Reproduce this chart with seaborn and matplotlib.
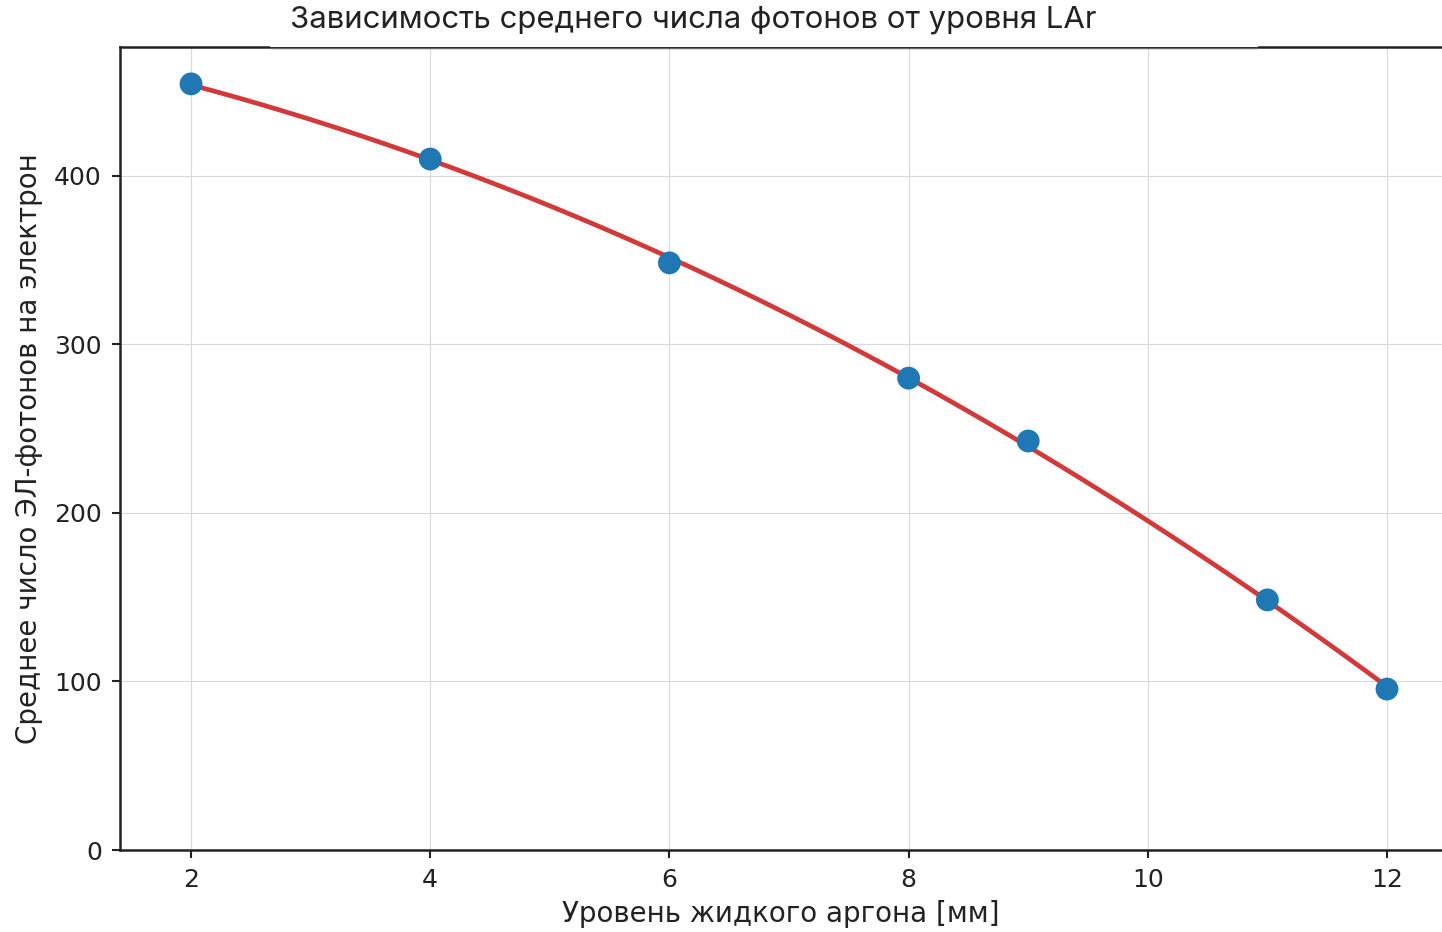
import numpy as np
import pandas as pd
import matplotlib
matplotlib.use("Agg")
import matplotlib.pyplot as plt
import seaborn as sns
from matplotlib.patches import Rectangle

# Data
levels_mm = [2, 4, 6, 8, 9, 11, 12]
photons = [454.6, 410.0, 348.4, 280.0, 242.7, 148.4, 95.5]
photons_err = [3.0, 2.5, 2.5, 2.0, 2.0, 2.0, 2.0]

title_text = "Зависимость среднего числа фотонов от уровня LAr"
xlabel_text = "Уровень жидкого аргона [мм]"
ylabel_text = "Среднее число ЭЛ-фотонов на электрон"
xticks = [2, 4, 6, 8, 10, 12]
yticks = [0, 100, 200, 300, 400]

sns.set_style("ticks")
plt.rcParams['font.family'] = ['DejaVu Sans']

df = pd.DataFrame({"x": levels_mm, "y": photons, "err": photons_err})

# quadratic fit to the data
coef = np.polyfit(df["x"], df["y"], 2)
xf = np.linspace(min(levels_mm), max(levels_mm), 300)
fit = pd.DataFrame({"x": xf, "y": np.polyval(coef, xf)})

fig = plt.figure(figsize=(14.42, 9.32), dpi=100)
ax = fig.add_axes([120 / 1442, 82 / 932, 1 - 120 / 1442, (850 - 47) / 932])

sns.lineplot(data=fit, x="x", y="y", ax=ax, color="#d03a3a", linewidth=3.4, zorder=2)
ax.errorbar(df["x"], df["y"], yerr=df["err"], fmt="none", ecolor="#222222",
            elinewidth=1.5, capsize=5, zorder=3)
sns.scatterplot(data=df, x="x", y="y", ax=ax, color="#1f77b4", s=270,
                edgecolor="none", zorder=4)

ax.set_xlim(1.406, 12.46)
ax.set_ylim(0, 476.5)
ax.set_xticks(xticks)
ax.set_yticks(yticks)
ax.grid(True, color="#d8d8d8", linewidth=0.8)
ax.set_axisbelow(True)
for s in ["left", "bottom", "top"]:
    ax.spines[s].set_color("#222222")
    ax.spines[s].set_linewidth(1.8)
ax.spines["right"].set_visible(False)
ax.tick_params(axis="both", labelsize=18, length=6, width=1.5, color="#222222",
               labelcolor="#222222", pad=7)
ax.set_xlabel(xlabel_text, fontsize=20, color="#222222", labelpad=6)
ax.set_ylabel(ylabel_text, fontsize=20, color="#222222", labelpad=8)

# title band covering the top spine
fig.patches.append(Rectangle((270 / 1442, (932 - 46.5) / 932), (1258 - 270) / 1442,
                             46.5 / 932, transform=fig.transFigure,
                             facecolor="white", edgecolor="none", zorder=10))
fig.add_artist(plt.Line2D([270 / 1442, 1258 / 1442], [(932 - 47.5) / 932] * 2,
                          transform=fig.transFigure, color="#666666",
                          linewidth=1.0, zorder=11))
fig.text(290 / 1442, (932 - 20) / 932, title_text,
         ha="left", va="center", fontsize=22.4, color="#222222",
         family=["Inter", "DejaVu Sans"], zorder=12)

fig.savefig("out.png", dpi=100, facecolor="white")
